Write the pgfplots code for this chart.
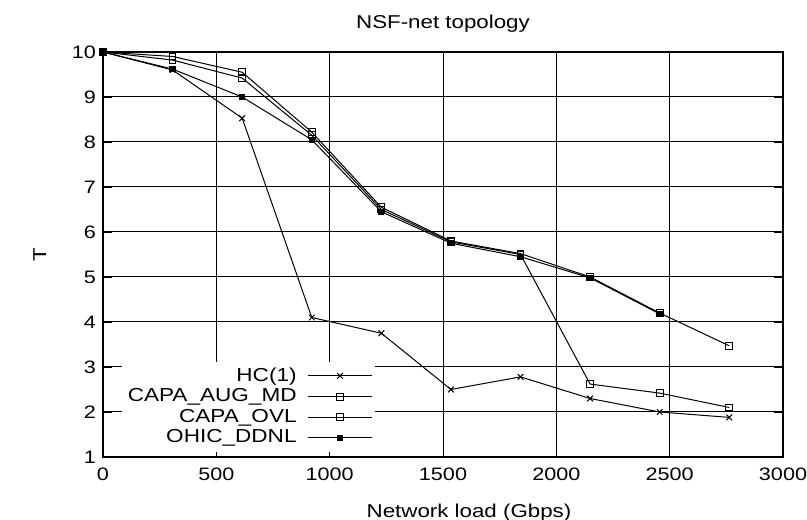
\documentclass[border=0pt]{standalone}
\usepackage{fontspec}
\setmainfont{Liberation Sans}[FakeStretch=1.2]
\usepackage{pgfplots}
\pgfplotsset{compat=1.18}

\begin{document}
\begin{tikzpicture}
\begin{axis}[
    scale only axis,
    width=340pt, height=202.5pt,
    xmin=0, xmax=3000, ymin=1, ymax=10,
    xtick={0,500,...,3000}, ytick={1,...,10},
    /pgf/number format/assume math mode=true,
    /pgf/number format/1000 sep={},
    tick label style={font=\fontsize{9}{10}\selectfont},
    xticklabel style={yshift=-2pt},
    title={NSF-net topology},
    title style={font=\fontsize{9.3}{10}\selectfont, yshift=0.5pt},
    xlabel={Network load (Gbps)},
    ylabel={T},
    label style={font=\fontsize{9.3}{10}\selectfont},
    ylabel style={yshift=6pt},
    xlabel style={yshift=-4.5pt, xshift=13pt},
    grid=major,
    major grid style={black, line width=0.5pt},
    tick style={black},
    tick align=inside,
    axis line style={line width=1pt},
    legend cell align=right,
    legend plot pos=right,
    legend style={at={(rel axis cs:0.4,0.012)}, anchor=south east,
        draw=none, fill=white, font=\fontsize{9.4}{9}\selectfont,
        inner sep=1pt, row sep=-1.8pt, column sep=3.5pt},
    legend image code/.code={\draw[mark repeat=2,mark phase=2]
        plot coordinates {(0pt,0pt) (16pt,0pt) (32pt,0pt)};},
    every axis plot/.append style={black, line width=0.5pt},
]
\coordinate (bl) at (rel axis cs:0,0);
\coordinate (tr) at (rel axis cs:1,1);
\addplot[mark=x, mark size=2pt] coordinates {
    (0,10) (307,9.6) (614,8.53) (921,4.1) (1228,3.75) (1535,2.5)
    (1842,2.78) (2149,2.3) (2456,2.0) (2763,1.88)
};
\addplot[mark=square, mark size=1.7pt] coordinates {
    (0,10) (307,9.9) (614,9.55) (921,8.22) (1228,6.55) (1535,5.8)
    (1842,5.52) (2149,5.0) (2456,4.2) (2763,3.47)
};
\addplot[mark=square, mark size=1.7pt] coordinates {
    (0,10) (307,9.82) (614,9.42) (921,8.15) (1228,6.5) (1535,5.78)
    (1842,5.5) (2149,2.62) (2456,2.42) (2763,2.1)
};
\addplot[mark=square*, mark size=1.3pt] coordinates {
    (0,10) (307,9.62) (614,9.0) (921,8.05) (1228,6.45) (1535,5.75)
    (1842,5.45) (2149,4.98) (2456,4.18)
};
\legend{HC(1), CAPA\_AUG\_MD, CAPA\_OVL, OHIC\_DDNL}
\end{axis}
\pgfresetboundingbox
\path ([shift={(-51.5pt,-31.5pt)}]bl) rectangle ([shift={(12pt,26pt)}]tr);
\end{tikzpicture}
\end{document}
